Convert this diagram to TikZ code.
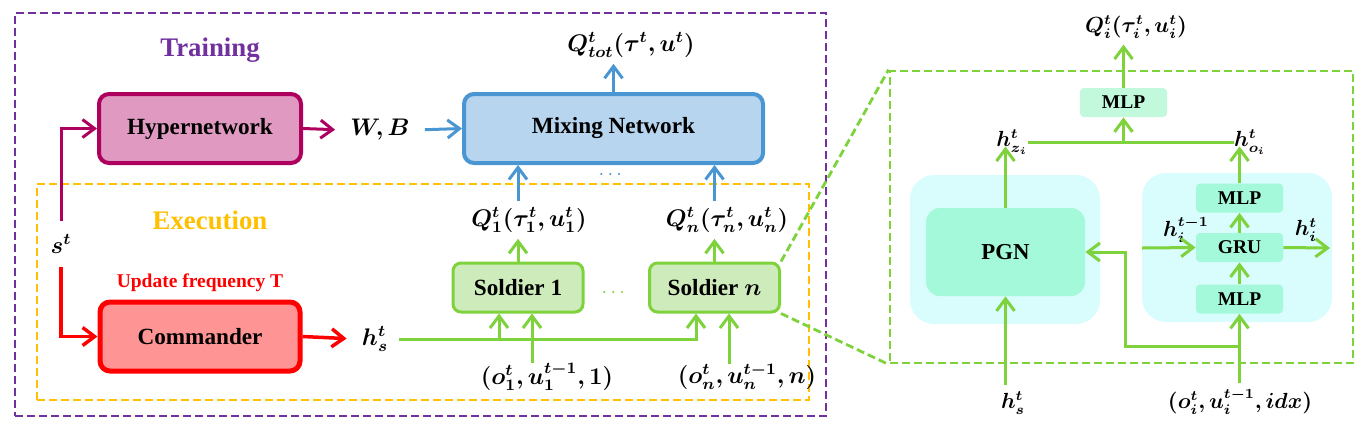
\documentclass[tikz,border=0pt]{standalone}
\usepackage{fontspec}
\setmainfont{Liberation Serif}
\usepackage{amsmath}
\usepackage{bm}
\usetikzlibrary{arrows.meta}
\definecolor{cpurple}{HTML}{7030A0}
\definecolor{cyellow}{HTML}{FFC000}
\definecolor{cgreen}{HTML}{7ED23C}
\definecolor{cblue}{HTML}{4A96D2}
\definecolor{cmag}{HTML}{AE005E}
\definecolor{cmagfill}{HTML}{E09AC2}
\definecolor{cred}{HTML}{FF0000}
\definecolor{credfill}{HTML}{FF9494}
\definecolor{cmixfill}{HTML}{B7D5EE}
\definecolor{csolfill}{HTML}{CEEBBB}
\definecolor{ccyan}{HTML}{D9FCFC}
\definecolor{cmint}{HTML}{A3F9D9}
\definecolor{cmintl}{HTML}{C2F8DC}
\tikzset{
 bigbox/.style={draw, rounded corners=5pt, minimum width=101pt, minimum height=34.5pt, inner sep=0pt, font=\fontsize{11.6}{14}\selectfont\bfseries},
 solbox/.style={draw=cgreen, fill=csolfill, line width=1.5pt, rounded corners=4pt, minimum width=65pt, minimum height=24.5pt, inner sep=0pt, font=\fontsize{11.6}{14}\selectfont\bfseries},
 minibox/.style={fill=cmint, rounded corners=2pt, minimum width=43.5pt, minimum height=14.5pt, inner sep=0pt, font=\fontsize{9.75}{11}\selectfont\bfseries},
 panel/.style={fill=ccyan, rounded corners=12pt, minimum width=95pt, minimum height=74.5pt, inner sep=0pt},
 lab/.style={inner sep=3pt, font=\fontsize{11.5}{13}\selectfont},
 slab/.style={inner sep=3pt, font=\fontsize{10.5}{12}\selectfont},
 titlelab/.style={font=\fontsize{13.4}{16}\selectfont\bfseries},
 arr/.style={line width=1.5pt, -{Straight Barb[length=6pt,width=9pt]}},
 garr/.style={arr, draw=cgreen},
 gline/.style={line width=1.5pt, draw=cgreen},
 barr/.style={arr, draw=cblue},
 dbox/.style={draw, line width=1.4pt, dash pattern=on 4pt off 2pt, inner sep=0pt},
 gdash/.style={draw=cgreen, line width=1.4pt, dash pattern=on 4pt off 2pt},
}
\begin{document}
\begin{tikzpicture}[x=0.5pt,y=-0.5pt]
\useasboundingbox (0,0) rectangle (1368,424);
% frames
\node[dbox, draw=cpurple, minimum width=405.5pt, minimum height=201.5pt] (train) at (420.5,214.5) {};
\node[dbox, draw=cyellow, minimum width=386pt, minimum height=108pt] (exec) at (423,292) {};
\node[dbox, draw=cgreen, minimum width=231.5pt, minimum height=146pt] (zoomb) at (1121.5,217) {};
% titles
\node[titlelab, text=cpurple] (ttrain) at (210,50) {Training};
\node[titlelab, text=cyellow] (texec) at (210,220) {Execution};
% main boxes
\node[bigbox, draw=cmag, fill=cmagfill, line width=2pt] (hyper) at (200,128.5) {Hypernetwork};
\node[bigbox, draw=cblue, fill=cmixfill, line width=2pt, minimum width=149.5pt] (mix) at (613.5,128.5) {Mixing Network};
\node[bigbox, draw=cred, fill=credfill, line width=2.5pt, minimum width=100pt] (cmd) at (200,336.5) {Commander};
\node[font=\fontsize{9.75}{12}\selectfont\bfseries, text=cred] (upd) at (200,283) {Update frequency T};
\node[solbox] (s1) at (518,287.5) {Soldier 1};
\node[solbox] (sn) at (714.5,287.5) {Soldier $\bm{n}$};
% labels
\node[lab, outer sep=4pt] (st) at (61,244) {$\bm{s^t}$};
\node[lab] (wb) at (380,130) {$\bm{W,B}$};
\node[lab] (hs) at (375,339) {$\bm{h^t_s}$};
\node[lab] (qtot) at (631,45) {$\bm{Q^t_{tot}(\tau^t,u^t)}$};
\node[lab] (q1) at (529,220) {$\bm{Q^t_1(\tau^t_1,u^t_1)}$};
\node[lab] (qn) at (727,220) {$\bm{Q^t_n(\tau^t_n,u^t_n)}$};
\node[lab] (o1) at (547,377) {$\bm{(o^t_1,u^{t-1}_1,1)}$};
\node[lab] (on) at (747,377) {$\bm{(o^t_n,u^{t-1}_n,n)}$};
\node[text=cgreen] (dots1) at (615,293) {$\cdots$};
\node[text=cblue] (dots2) at (612,175) {$\cdots$};
% left connectors
\draw[arr, draw=cmag] (st.north) |- (hyper.west);
\draw[arr, draw=cred, line width=1.75pt] (st.south) |- (cmd.west);
\draw[arr, draw=cmag, shorten >=4.5pt] (hyper.east) -- (wb.west);
\draw[barr, shorten <=4.5pt] (wb.east) -- (mix.west);
\draw[arr, draw=cred, line width=1.75pt, shorten >=4.5pt] (cmd.east) -- (hs.west);
\draw[barr] (mix.north) -- (mix.north |- qtot.south);
\draw[barr] (s1.north |- q1.north) -- (s1.north |- mix.south);
\draw[barr] (sn.north |- qn.north) -- (sn.north |- mix.south);
\draw[garr] (s1.north) -- (s1.north |- q1.south);
\draw[garr] (sn.north) -- (sn.north |- qn.south);
\draw[garr, shorten <=2.5pt] (hs.east) -| ([xshift=-9.25pt]sn.south);
\draw[garr] ([xshift=-9.5pt]s1.south |- hs.east) -- ([xshift=-9.5pt]s1.south);
\draw[garr, shorten <=-3pt] ([xshift=7pt]s1.south |- o1.north) -- ([xshift=7pt]s1.south);
\draw[garr, shorten <=-3pt] ([xshift=7.25pt]sn.south |- on.north) -- ([xshift=7.25pt]sn.south);
\draw[gdash] (sn.north east) -- (zoomb.north west);
\draw[gdash] (sn.south east) -- (zoomb.south west);
% right panel
\node[panel] (pl) at (1005,249.5) {};
\node[panel] (pr) at (1237,247.5) {};
\node[minibox, minimum width=79.5pt, minimum height=44pt, rounded corners=7pt, font=\fontsize{11.4}{14}\selectfont\bfseries] (pgn) at (1005.5,252) {PGN};
\node[minibox, fill=cmintl] (mlpt) at (1123.5,102.5) {MLP};
\node[minibox] (mlp2) at (1239.5,198) {MLP};
\node[minibox] (gru) at (1239.5,247.5) {GRU};
\node[minibox] (mlp1) at (1239.5,299) {MLP};
\node[slab] (qi) at (1136,27) {$\bm{Q^t_i(\tau^t_i,u^t_i)}$};
\node[slab, inner sep=0pt] (hz) at (1012,142) {$\bm{h^t_{z_i}}$};
\node[slab, inner sep=0pt] (ho) at (1250,142) {$\bm{h^t_{o_i}}$};
\node[slab] (hprev) at (1186,230) {$\bm{h^{t-1}_i}$};
\node[slab] (hnew) at (1306,230) {$\bm{h^t_i}$};
\node[slab] (hs2) at (1013,403) {$\bm{h^t_s}$};
\node[slab] (oi) at (1240,402) {$\bm{(o^t_i,u^{t-1}_i,idx)}$};
\coordinate (hin) at (1142,248);
\coordinate (hout) at (1330,248);
\coordinate (br) at (1240,346);
\draw[garr] (mlpt.north) -- (mlpt.north |- qi.south);
\draw[gline] (hz.east) -- (ho.west);
\draw[garr] (mlpt.south |- hz.east) -- (mlpt.south);
\draw[garr, shorten >=-4pt] (pgn.north) -- (pgn.north |- hz.south);
\draw[garr] (pgn.south |- hs2.north) -- (pgn.south);
\draw[garr, shorten >=-4pt] (mlp2.north) -- (mlp2.north |- ho.south);
\draw[garr] (gru.north) -- (mlp2.south);
\draw[garr] (mlp1.north) -- (gru.south);
\draw[garr] (hin) -- (gru.west);
\draw[garr] (gru.east) -- (hout);
\draw[garr] (mlp1.south |- oi.north) -- (mlp1.south);
\draw[garr] (br) -| ([xshift=20pt]pgn.east) -- (pgn.east);
\end{tikzpicture}
\end{document}
